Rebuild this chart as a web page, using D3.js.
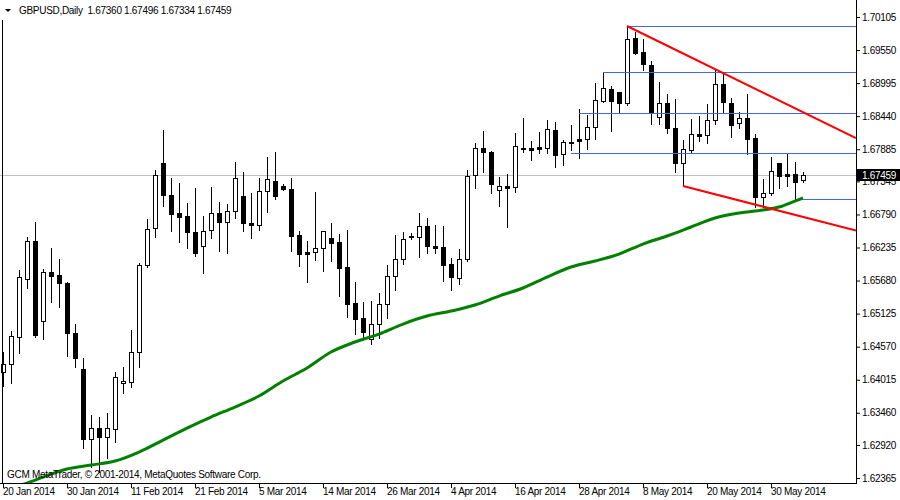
<!DOCTYPE html>
<html>
<head>
<meta charset="utf-8">
<script src="https://cdn.jsdelivr.net/npm/d3@7"></script>
<style>
body{margin:0;background:#fff}
text{font-family:Tahoma,"Liberation Sans",Arial,sans-serif;font-size:10px;letter-spacing:-0.3px}
</style>
</head>
<body>
<svg id="chart" width="900" height="500"></svg>
<script>
// GBPUSD daily bars, one entry per bar (bar 0 = 20 Jan 2014)
var opens = [
1.64144,1.64278,1.64732,1.65706,1.66344,1.65000,1.65823,1.65773,1.65638,1.64799,
1.64195,1.63019,1.63204,1.63053,1.63187,1.63959,1.63976,1.64480,1.65941,1.66562,
1.67653,1.67116,1.66814,1.66763,1.66495,1.66260,1.66528,1.66814,1.66663,1.66847,
1.67099,1.66646,1.66612,1.67183,1.67351,1.67267,1.67217,1.66444,1.66159,1.66159,
1.66226,1.66394,1.66327,1.65907,1.65303,1.65051,1.64698,1.64950,1.65286,1.65756,
1.66041,1.66428,1.66411,1.66596,1.66260,1.66243,1.65957,1.65722,1.66041,1.67452,
1.67905,1.67838,1.67200,1.67267,1.67250,1.67905,1.67905,1.67922,1.67905,1.68207,
1.67804,1.67989,1.68056,1.68056,1.68258,1.68694,1.68896,1.68845,1.68661,1.69752,
1.69517,1.69299,1.68426,1.68661,1.68241,1.67653,1.67872,1.68140,1.68123,1.68375,
1.68980,1.68661,1.68325,1.68409,1.68073,1.67082,1.67150,1.67653,1.67469,1.67469,
1.67360]
var highs = [
1.64480,1.64833,1.65857,1.66411,1.66663,1.65874,1.66226,1.66041,1.65655,1.64950,
1.64379,1.63422,1.63389,1.63456,1.64144,1.64228,1.64849,1.65974,1.66713,1.67536,
1.68207,1.67401,1.67317,1.66982,1.67234,1.66763,1.67250,1.66998,1.66965,1.67670,
1.67502,1.67150,1.67401,1.67754,1.67838,1.67301,1.67401,1.66512,1.66344,1.67166,
1.66512,1.66646,1.66461,1.66528,1.65655,1.65319,1.65336,1.65471,1.65941,1.66444,
1.66495,1.66478,1.66814,1.66730,1.66612,1.66596,1.66058,1.66209,1.67536,1.67989,
1.68191,1.67855,1.67418,1.67469,1.68157,1.68409,1.68023,1.68174,1.68375,1.68342,
1.68039,1.68291,1.68560,1.68459,1.68996,1.69181,1.68946,1.68845,1.69954,1.69853,
1.69735,1.69366,1.69013,1.68812,1.68728,1.68039,1.68392,1.68442,1.68644,1.69215,
1.69148,1.68745,1.68510,1.68812,1.68140,1.67385,1.67754,1.67653,1.67804,1.67670,
1.67496]
var lows = [
1.63909,1.63959,1.64463,1.65555,1.64732,1.64698,1.65319,1.65236,1.64413,1.64228,
1.62868,1.62549,1.62465,1.62700,1.62969,1.63792,1.63892,1.64228,1.65907,1.66411,
1.66931,1.66512,1.66327,1.66226,1.66092,1.65806,1.66394,1.66176,1.66142,1.66730,
1.66512,1.66394,1.66528,1.66831,1.67049,1.67200,1.66176,1.65924,1.65655,1.66025,
1.65840,1.66008,1.65420,1.65068,1.64782,1.64715,1.64614,1.64715,1.65051,1.65521,
1.65957,1.66377,1.66075,1.66142,1.66142,1.65672,1.65521,1.65622,1.66008,1.67234,
1.67502,1.67150,1.66931,1.66579,1.67166,1.67838,1.67704,1.67821,1.67821,1.67586,
1.67620,1.67872,1.67737,1.67888,1.68056,1.68677,1.68191,1.68510,1.68627,1.69483,
1.69215,1.68308,1.68308,1.68157,1.67502,1.67267,1.67821,1.68023,1.67989,1.68308,
1.68493,1.68090,1.68241,1.67804,1.66915,1.66915,1.67116,1.67234,1.67267,1.67032,
1.67334]
var closes = [
1.64278,1.64749,1.65739,1.66344,1.64765,1.65823,1.65756,1.65638,1.64799,1.64379,
1.63019,1.63204,1.63053,1.63204,1.64060,1.63993,1.64480,1.65941,1.66545,1.67452,
1.67116,1.66797,1.66747,1.66495,1.66142,1.66512,1.66814,1.66663,1.66847,1.67401,
1.66646,1.66612,1.67183,1.67385,1.67099,1.67217,1.66428,1.66125,1.66125,1.66226,
1.66512,1.66310,1.65890,1.65286,1.65034,1.64816,1.64950,1.65286,1.65756,1.66041,
1.66377,1.66411,1.66596,1.66260,1.66226,1.65941,1.65739,1.66041,1.67435,1.67905,
1.67838,1.67301,1.67267,1.67234,1.67939,1.67888,1.67872,1.67888,1.68224,1.67788,
1.68006,1.68006,1.68023,1.68258,1.68711,1.68913,1.68694,1.68661,1.69735,1.69500,
1.69315,1.68493,1.68661,1.68241,1.67653,1.67888,1.68140,1.68107,1.68375,1.68980,
1.68677,1.68291,1.68409,1.68056,1.67082,1.67150,1.67519,1.67435,1.67435,1.67334,
1.67459]

// moving average read at some bars
var maBars   = [0,3,5,8,11,14,17,20,23,26,29,32,35,38,41,44,47,50,53,56,59,62,65,68,71,74,77,80,83,86,89,92,95,97,99,100]
var maValues = [1.62180,1.62280,1.62381,1.62516,1.62583,1.62650,1.62801,1.63002,1.63204,1.63389,1.63557,1.63741,
  1.63993,1.64211,1.64480,1.64648,1.64782,1.64950,1.65084,1.65168,1.65269,1.65420,1.65555,1.65739,1.65907,1.66008,
  1.66125,1.66293,1.66428,1.66579,1.66730,1.66814,1.66864,1.66915,1.67015,1.67066]

// horizontal lines (start bar, price) and trend lines
var hlineBars   = [78, 75, 72, 71, 100]
var hlinePrices = [1.69954, 1.69181, 1.68490, 1.67816, 1.67044]
var trendLines = [
  [78, 1.69954, 106.625, 1.68073],
  [85, 1.67267, 106.625, 1.66520]
]

var priceTicks = [1.70105,1.69550,1.68995,1.68440,1.67885,1.67345,1.66790,1.66235,1.65680,1.65125,1.64570,1.64015,1.63460,1.62920,1.62365]
var dateTickBars = [0,8,16,24,32,40,48,56,64,72,80,88,96]
var dateLabels = ["20 Jan 2014","30 Jan 2014","11 Feb 2014","21 Feb 2014","5 Mar 2014","14 Mar 2014","26 Mar 2014",
  "4 Apr 2014","16 Apr 2014","28 Apr 2014","8 May 2014","20 May 2014","30 May 2014"]

var W = 900, H = 500
var RIGHT = 856, BOTTOM = 483

var svg = d3.select("#chart")
svg.append("rect").attr("width", W).attr("height", H).attr("fill", "#fff")

var x = d3.scaleLinear().domain([0, 100]).range([3, 803])
var y = d3.scaleLinear().domain([1.62365, 1.70105]).range([478, 17])
function py(p){ return Math.round(y(p)) }

svg.append("clipPath").attr("id", "plot")
  .append("rect").attr("x", 0).attr("y", 0).attr("width", RIGHT).attr("height", BOTTOM)

var g = svg.append("g").attr("clip-path", "url(#plot)")

var last = closes.length - 1

// bid line
g.append("line")
  .attr("x1", 0).attr("x2", RIGHT)
  .attr("y1", py(closes[last]) + 0.5).attr("y2", py(closes[last]) + 0.5)
  .attr("stroke", "#c0c0c0")

// candles
var bars = d3.range(opens.length)
var cg = g.selectAll(".bar").data(bars).enter().append("g").attr("class", "bar")

cg.append("line")
  .attr("x1", d => x(d) + 0.5).attr("x2", d => x(d) + 0.5)
  .attr("y1", d => py(highs[d])).attr("y2", d => py(lows[d]) + 1)
  .attr("stroke", "#000")

cg.each(function(d){
  var sel = d3.select(this)
  var top = py(Math.max(opens[d], closes[d]))
  var bot = py(Math.min(opens[d], closes[d]))
  var cx = x(d)
  if (closes[d] >= opens[d]) {
    sel.append("rect")
      .attr("x", cx - 1.5).attr("y", top + 0.5)
      .attr("width", 4).attr("height", Math.max(bot - top, 1))
      .attr("fill", "#fff").attr("stroke", "#000")
  } else {
    sel.append("rect")
      .attr("x", cx - 2).attr("y", top)
      .attr("width", 5).attr("height", Math.max(bot - top, 1) + 1)
      .attr("fill", "#000")
  }
})

// moving average
var maLine = d3.line()
  .x((d, i) => x(maBars[i]))
  .y(d => y(d))
  .curve(d3.curveMonotoneX)
g.append("path").datum(maValues)
  .attr("d", maLine)
  .attr("fill", "none").attr("stroke", "#008000").attr("stroke-width", 3)

// horizontal lines
hlineBars.forEach(function(b, i){
  var yy = py(hlinePrices[i]) + 0.5
  g.append("line")
    .attr("x1", x(b)).attr("x2", RIGHT)
    .attr("y1", yy).attr("y2", yy)
    .attr("stroke", "#4169e1")
})

// trend lines
trendLines.forEach(function(t){
  g.append("line")
    .attr("x1", x(t[0])).attr("y1", y(t[1]))
    .attr("x2", x(t[2])).attr("y2", y(t[3]))
    .attr("stroke", "#ff0000").attr("stroke-width", 2)
})

// frame
svg.append("line").attr("x1", 2.5).attr("x2", 2.5).attr("y1", 20).attr("y2", BOTTOM + 0.5).attr("stroke", "#000")
svg.append("line").attr("x1", RIGHT + 0.5).attr("x2", RIGHT + 0.5).attr("y1", 0).attr("y2", BOTTOM + 0.5).attr("stroke", "#000")
svg.append("line").attr("x1", 0).attr("x2", RIGHT + 1).attr("y1", BOTTOM + 0.5).attr("y2", BOTTOM + 0.5).attr("stroke", "#000")

// price axis
var yAxis = d3.axisRight(y).tickValues(priceTicks).tickSize(4).tickFormat(d3.format(".5f"))
var ya = svg.append("g").attr("transform", "translate(" + RIGHT + ",0)").call(yAxis)
ya.select(".domain").remove()
ya.selectAll("text").attr("x", 6).attr("fill", "#000")
ya.attr("font-family", null).attr("font-size", null)

// bid price label (covers the tick label under it, as in the terminal)
var by = py(closes[last])
svg.append("rect").attr("x", 857).attr("y", by - 6).attr("width", 43).attr("height", 12).attr("fill", "#000")
svg.append("text").attr("x", 862).attr("y", by + 4).attr("fill", "#fff").text(closes[last].toFixed(5))

// date axis
var xAxis = d3.axisBottom(x).tickValues(dateTickBars).tickSize(5).tickFormat((d, i) => dateLabels[i])
var xa = svg.append("g").attr("transform", "translate(0," + BOTTOM + ")").call(xAxis)
xa.select(".domain").remove()
xa.selectAll("text").attr("text-anchor", "start").attr("x", -0.5).attr("y", 5).attr("fill", "#000")
xa.attr("font-family", null).attr("font-size", null)

// title
svg.append("path").attr("d", "M5,9L11,9L8,12Z").attr("fill", "#000")
svg.append("text").attr("x", 19).attr("y", 14).style("white-space", "pre")
  .text("GBPUSD,Daily  " + [opens[last], highs[last], lows[last], closes[last]].map(v => v.toFixed(5)).join(" "))

svg.append("text").attr("x", 7).attr("y", 478)
  .text("GCM MetaTrader, \u00a9 2001-2014, MetaQuotes Software Corp.")
</script>
</body>
</html>
